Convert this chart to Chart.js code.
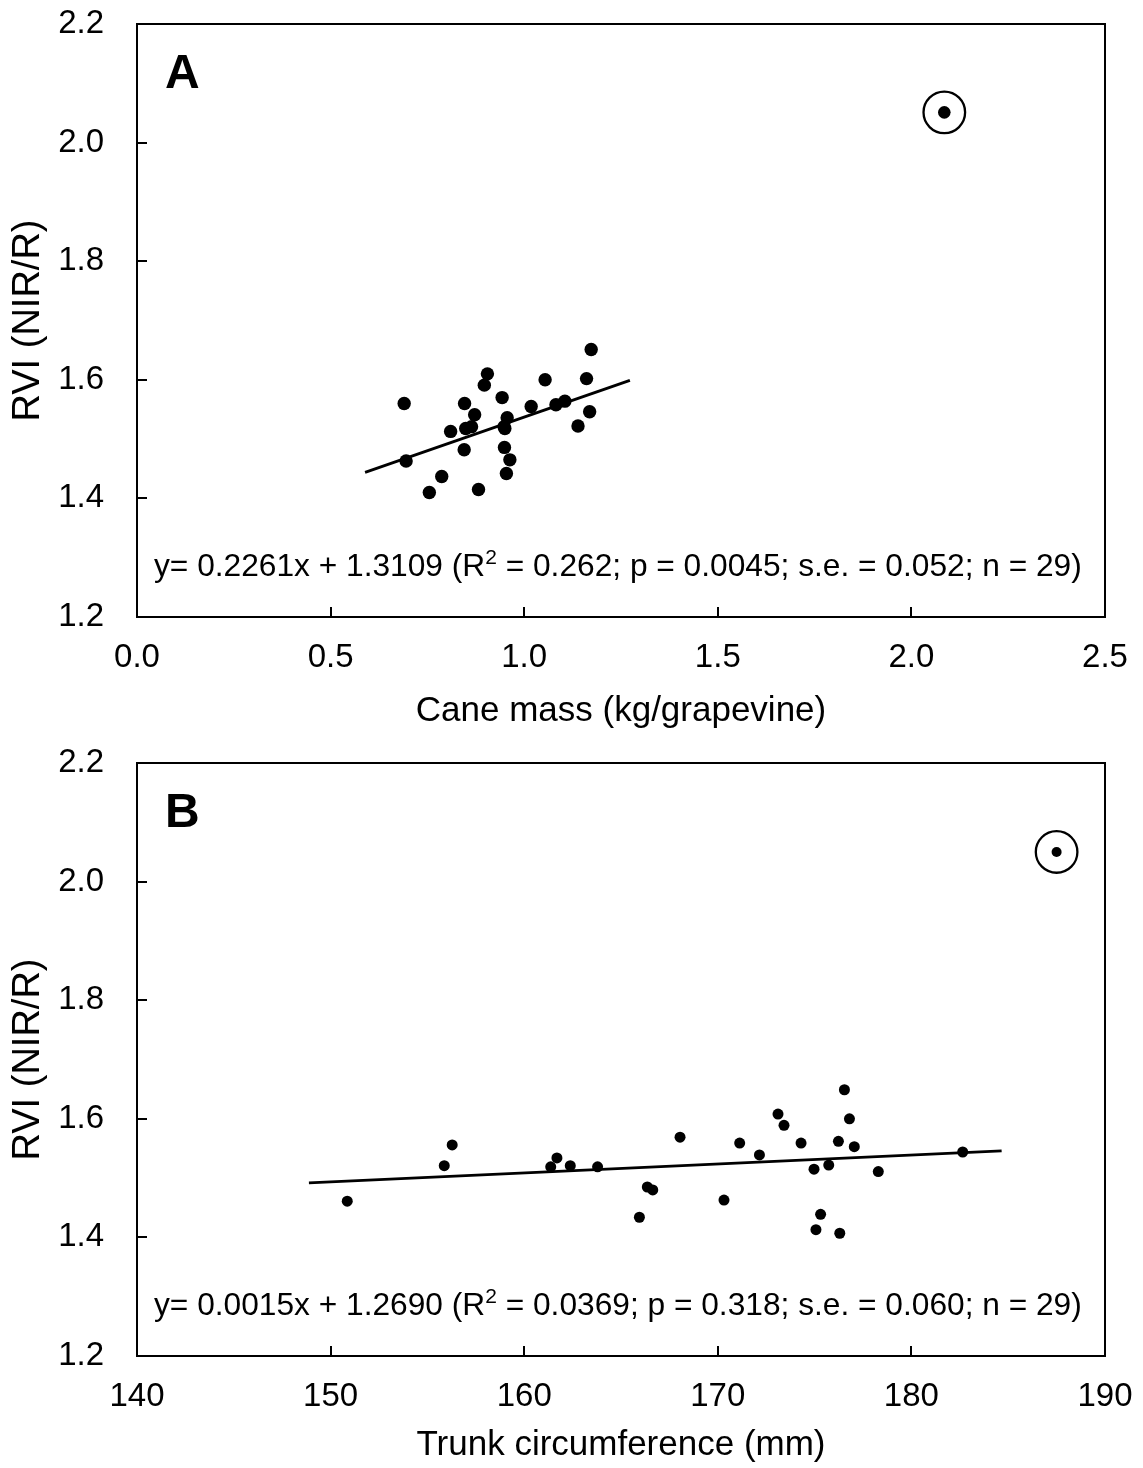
<!DOCTYPE html>
<html>
<head>
<meta charset="utf-8">
<script src="https://cdn.jsdelivr.net/npm/chart.js@4.4.0/dist/chart.umd.min.js"></script>
<style>
  html, body { margin: 0; padding: 0; background: #fff; }
  .panel { position: absolute; left: 0; width: 1143px; height: 734px; }
  #pa { top: 0; }
  #pb { top: 734px; }
</style>
</head>
<body>
<div class="panel" id="pa"><canvas id="ca" width="1143" height="734"></canvas></div>
<div class="panel" id="pb"><canvas id="cb" width="1143" height="734"></canvas></div>
<script>
// Panel A: cane mass (kg/grapevine) vs RVI
const caneMass = [0.905, 0.897, 1.054, 1.161, 0.846, 0.943, 0.872, 1.018, 1.082, 1.105,
                  1.169, 0.810, 0.849, 0.864, 0.956, 0.948, 1.139, 0.845, 0.949, 0.963,
                  0.954, 0.787, 0.690, 0.695, 0.755, 0.882, 1.173, 0.950];
const rviCane   = [1.610, 1.591, 1.600, 1.602, 1.560, 1.570, 1.541, 1.555, 1.558, 1.564,
                   1.546, 1.513, 1.518, 1.521, 1.536, 1.521, 1.522, 1.482, 1.486, 1.465,
                   1.442, 1.437, 1.560, 1.463, 1.410, 1.415, 1.651, 1.518];
const caneOutlier = [2.085];
const rviCaneOutlier = [2.051];
const caneFitX = [0.589, 1.273];
const caneFitY = [1.444, 1.599];
const caneStats = { slope: '0.2261', intercept: '1.3109', r2: '0.262', p: '0.0045', se: '0.052', n: '29' };

// Panel B: trunk circumference (mm) vs RVI
const trunkCirc = [150.86, 155.87, 156.28, 161.37, 161.69, 162.38, 163.79, 166.36, 166.64, 165.95,
                   168.05, 170.32, 171.13, 172.15, 173.11, 173.42, 174.30, 174.97, 175.31, 175.07,
                   175.73, 176.23, 176.30, 176.54, 176.80, 177.05, 178.29, 182.65];
const rviTrunk  = [1.461, 1.521, 1.556, 1.519, 1.534, 1.521, 1.519, 1.485, 1.480, 1.434,
                   1.569, 1.463, 1.559, 1.539, 1.608, 1.589, 1.559, 1.515, 1.439, 1.413,
                   1.522, 1.562, 1.407, 1.649, 1.600, 1.553, 1.511, 1.544];
const trunkOutlier = [187.50];
const rviTrunkOutlier = [2.050];
const trunkFitX = [148.88, 184.66];
const trunkFitY = [1.492, 1.546];
const trunkStats = { slope: '0.0015', intercept: '1.2690', r2: '0.0369', p: '0.318', se: '0.060', n: '29' };

const yTicks = { min: 1.2, max: 2.2, step: 0.2 };
const FONT = '"Liberation Sans", Arial, Helvetica, sans-serif';

function pts(xs, ys) { return xs.map((x, i) => ({ x: x, y: ys[i] })); }

// Frame, inward tick marks, panel letter and regression equation
const panelDecor = {
  id: 'panelDecor',
  afterDatasetsDraw(chart, args, opts) {
    const { ctx, chartArea: a, scales } = chart;
    ctx.save();
    ctx.strokeStyle = '#000';
    ctx.lineWidth = 2;
    ctx.strokeRect(a.left, a.top, a.right - a.left, a.bottom - a.top);
    ctx.beginPath();
    scales.x.ticks.forEach(t => {
      const px = Math.round(scales.x.getPixelForValue(t.value));
      ctx.moveTo(px, a.bottom); ctx.lineTo(px, a.bottom - 10);
    });
    scales.y.ticks.forEach(t => {
      const py = Math.round(scales.y.getPixelForValue(t.value));
      ctx.moveTo(a.left, py); ctx.lineTo(a.left + 10, py);
    });
    ctx.stroke();

    ctx.fillStyle = '#000';
    ctx.textBaseline = 'alphabetic';
    ctx.textAlign = 'left';
    ctx.font = 'bold 48px ' + FONT;
    ctx.fillText(opts.letter, a.left + 28, a.top + 64);

    const s = opts.stats;
    const fs = opts.eqSize;
    let x = a.left + 17;
    const y = a.bottom - 41;
    const part1 = 'y= ' + s.slope + 'x + ' + s.intercept + ' (R';
    const part2 = ' = ' + s.r2 + '; p = ' + s.p + '; s.e. = ' + s.se + '; n = ' + s.n + ')';
    ctx.font = fs + 'px ' + FONT;
    ctx.fillText(part1, x, y);
    x += ctx.measureText(part1).width;
    ctx.font = Math.round(fs * 0.65) + 'px ' + FONT;
    ctx.fillText('2', x, y - fs * 0.38);
    x += ctx.measureText('2').width;
    ctx.font = fs + 'px ' + FONT;
    ctx.fillText(part2, x, y);
    ctx.restore();
  }
};

function makeChart(canvasId, cfg) {
  return new Chart(document.getElementById(canvasId), {
    type: 'scatter',
    data: {
      datasets: [
        { data: pts(cfg.xs, cfg.ys), pointRadius: cfg.dot, pointHoverRadius: cfg.dot,
          backgroundColor: '#000', borderWidth: 0, pointBorderWidth: 0 },
        { type: 'line', data: pts(cfg.fitX, cfg.fitY), borderColor: '#000', borderWidth: 2.8,
          pointRadius: 0, fill: false, tension: 0 },
        { data: pts(cfg.ox, cfg.oy), pointRadius: 20.8, pointHoverRadius: 20.8,
          backgroundColor: 'rgba(0,0,0,0)', borderColor: '#000', pointBorderWidth: 2.3, borderWidth: 2.3 },
        { data: pts(cfg.ox, cfg.oy), pointRadius: cfg.odot, pointHoverRadius: cfg.odot,
          backgroundColor: '#000', borderWidth: 0, pointBorderWidth: 0 }
      ]
    },
    options: {
      responsive: false,
      animation: false,
      events: [],
      layout: { padding: { top: cfg.top, right: 38, left: 0, bottom: 0 } },
      plugins: {
        legend: { display: false },
        tooltip: { enabled: false },
        panelDecor: { letter: cfg.letter, stats: cfg.stats, eqSize: 31.7 }
      },
      scales: {
        x: {
          type: 'linear', min: cfg.xMin, max: cfg.xMax,
          afterFit: sc => { sc.height = cfg.xh; sc.paddingLeft = 0; sc.paddingRight = 0; },
          grid: { display: false, drawTicks: false },
          border: { display: false },
          ticks: { stepSize: cfg.xStep, padding: 21, color: '#000',
                   font: { family: FONT, size: 33 },
                   callback: v => cfg.xFmt(v) },
          title: { display: true, text: cfg.xTitle, color: '#000',
                   font: { family: FONT, size: 35 }, padding: { top: 0, bottom: 2 } }
        },
        y: {
          type: 'linear', min: yTicks.min, max: yTicks.max,
          afterFit: sc => { sc.width = 137; sc.paddingTop = 0; sc.paddingBottom = 0; },
          grid: { display: false, drawTicks: false },
          border: { display: false },
          ticks: { stepSize: yTicks.step, padding: 33, color: '#000',
                   font: { family: FONT, size: 33 },
                   callback: v => v.toFixed(1) },
          title: { display: true, text: 'RVI (NIR/R)', color: '#000',
                   font: { family: FONT, size: 38 }, padding: { top: 6, bottom: 0 } }
        }
      }
    },
    plugins: [panelDecor]
  });
}

makeChart('ca', {
  xs: caneMass, ys: rviCane, fitX: caneFitX, fitY: caneFitY,
  ox: caneOutlier, oy: rviCaneOutlier, dot: 6.7, odot: 6.3,
  xMin: 0, xMax: 2.5, xStep: 0.5, xFmt: v => v.toFixed(1),
  xTitle: 'Cane mass (kg/grapevine)', letter: 'A', stats: caneStats,
  top: 24, xh: 117
});

makeChart('cb', {
  xs: trunkCirc, ys: rviTrunk, fitX: trunkFitX, fitY: trunkFitY,
  ox: trunkOutlier, oy: rviTrunkOutlier, dot: 5.5, odot: 5,
  xMin: 140, xMax: 190, xStep: 10, xFmt: v => String(Math.round(v)),
  xTitle: 'Trunk circumference (mm)', letter: 'B', stats: trunkStats,
  top: 29, xh: 112
});
</script>
</body>
</html>
